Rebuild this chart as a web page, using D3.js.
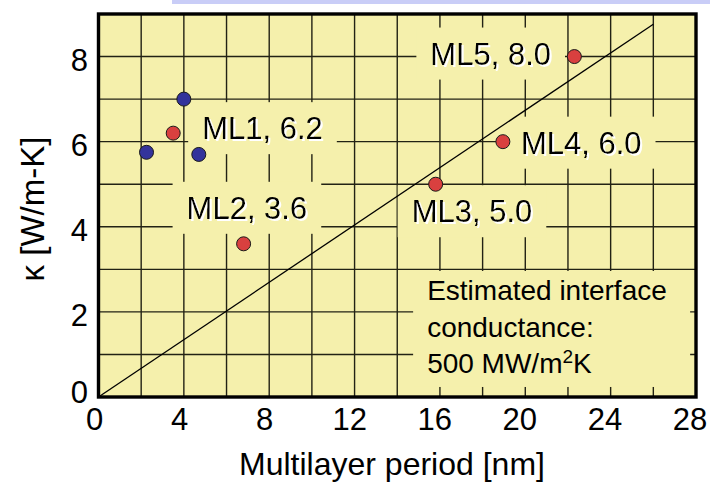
<!DOCTYPE html>
<html><head><meta charset="utf-8">
<script src="https://cdn.jsdelivr.net/npm/d3@7"></script>
<style>html,body{margin:0;padding:0;background:#fff;} svg{display:block;}</style>
</head><body>
<svg id="chart" width="710" height="482"></svg>
<script>
// Thermal conductivity of multilayer samples vs. period
const sampleNames  = ["ML1", "ML2", "ML3", "ML4", "ML5"];
const samplePeriod = [3.5, 6.8, 15.8, 18.95, 22.3];
const sampleKappa  = [6.2, 3.6, 5.0, 6.0, 8.0];

// reference films (blue markers)
const refPeriod = [2.25, 4.0, 4.7];
const refKappa  = [5.75, 7.0, 5.7];

// interface-conductance model line
const modelPeriod = [0, 26];
const modelKappa  = [0, 8.76];

const xTickValues = [0, 4, 8, 12, 16, 20, 24, 28];
const yTickValues = [0, 2, 4, 6, 8];
const noteLines = ["Estimated interface", "conductance:", "500 MW/m^2K"];

const FONT = "'Liberation Sans', Arial, Helvetica, sans-serif";
const svg = d3.select("#chart");

// white drop shadow for the sample labels
const filt = svg.append("defs").append("filter").attr("id", "whiteShadow")
  .attr("x", "-5%").attr("y", "-20%").attr("width", "115%").attr("height", "150%");
filt.append("feOffset").attr("in", "SourceAlpha").attr("dx", 1.6).attr("dy", 1.6).attr("result", "off");
filt.append("feFlood").attr("flood-color", "#fff").attr("result", "white");
filt.append("feComposite").attr("in", "white").attr("in2", "off").attr("operator", "in").attr("result", "shadow");
const merge = filt.append("feMerge");
merge.append("feMergeNode").attr("in", "shadow");
merge.append("feMergeNode").attr("in", "SourceGraphic");

const x = d3.scaleLinear().domain([0, 28]).range([98.5, 696]);
const y = d3.scaleLinear().domain([0, 9]).range([397, 14]);
// tick labels sit slightly left of their grid lines
const xLab = d3.scaleLinear().domain([0, 28]).range([x(0) - 4, x(28) - 6]);

// slide strip at the very top
svg.append("rect").attr("x", 172).attr("y", 0).attr("width", 538).attr("height", 4).attr("fill", "#c9cdf7");

// plot background
svg.append("rect")
  .attr("x", x(0)).attr("y", y(9))
  .attr("width", x(28) - x(0)).attr("height", y(0) - y(9))
  .attr("fill", "#f5f0ac");

// grid
const grid = svg.append("g").attr("stroke", "#222214").attr("stroke-width", 1.4);
grid.selectAll("line.vx").data(d3.range(2, 28, 2)).join("line")
  .attr("x1", d => x(d)).attr("x2", d => x(d)).attr("y1", y(9)).attr("y2", y(0));
grid.selectAll("line.hy").data(d3.range(1, 9, 1)).join("line")
  .attr("x1", x(0)).attr("x2", x(28)).attr("y1", d => y(d)).attr("y2", d => y(d));

// label boxes (filled once text is measured)
const boxLayer = svg.append("g");

// model line
svg.append("line")
  .attr("x1", x(modelPeriod[0])).attr("y1", y(modelKappa[0]))
  .attr("x2", x(modelPeriod[1])).attr("y2", y(modelKappa[1]))
  .attr("stroke", "#000").attr("stroke-width", 1.3);

// frame
svg.append("rect")
  .attr("x", x(0)).attr("y", y(9))
  .attr("width", x(28) - x(0)).attr("height", y(0) - y(9))
  .attr("fill", "none").attr("stroke", "#000").attr("stroke-width", 3.4);

// tick labels
svg.append("g").selectAll("text").data(xTickValues).join("text")
  .attr("x", d => xLab(d)).attr("y", 430)
  .attr("text-anchor", "middle").attr("font-family", FONT).attr("font-size", 31)
  .attr("fill", "#000").text(d => d);
svg.append("g").selectAll("text").data(yTickValues).join("text")
  .attr("x", 88).attr("y", d => y(d) + (d === 0 ? 6 : 14))
  .attr("text-anchor", "end").attr("font-family", FONT).attr("font-size", 31)
  .attr("fill", "#000").text(d => d);

// axis titles
svg.append("text")
  .attr("x", 392).attr("y", 475).attr("text-anchor", "middle")
  .attr("font-family", FONT).attr("font-size", 32).text("Multilayer period [nm]");
svg.append("text")
  .attr("transform", "translate(44,209) rotate(-90)").attr("text-anchor", "middle")
  .attr("font-family", FONT).attr("font-size", 33).text("κ [W/m-K]");

// sample labels: pixel offset of text start / baseline from the marker
const labelOffset = [[29, 6], [-57, -25], [-24, 38], [18, 12], [-144, 8]];
const labelLayer = svg.append("g").attr("font-family", FONT).attr("font-size", 31);
sampleNames.forEach((name, i) => {
  const tx = x(samplePeriod[i]) + labelOffset[i][0];
  const ty = y(sampleKappa[i]) + labelOffset[i][1];
  const str = `${name}, ${sampleKappa[i].toFixed(1)}`;
  const t = labelLayer.append("text").attr("x", tx).attr("y", ty)
    .attr("fill", "#000").attr("filter", "url(#whiteShadow)").text(str);
  const w = t.node().getComputedTextLength();
  boxLayer.append("rect")
    .attr("x", tx - 14).attr("y", ty - 37).attr("width", w + 28).attr("height", 52)
    .attr("fill", "#f5f0ac");
});

// conductance note
const noteX = x(15.4), noteY = y(2.28);
boxLayer.append("rect")
  .attr("x", noteX - 14).attr("y", noteY - 29).attr("width", 277).attr("height", 116)
  .attr("fill", "#f5f0ac");
const note = svg.append("g").attr("font-family", FONT).attr("font-size", 28).attr("fill", "#000");
noteLines.forEach((line, i) => {
  const t = note.append("text").attr("x", noteX).attr("y", noteY + i * 36.6);
  const parts = line.split("^");
  if (parts.length === 1) { t.text(line); return; }
  t.append("tspan").text(parts[0]);
  t.append("tspan").attr("font-size", 19).attr("dy", -10).text(parts[1][0]);
  t.append("tspan").attr("dy", 10).text(parts[1].slice(1));
});

// markers
svg.append("g").selectAll("circle").data(refPeriod).join("circle")
  .attr("cx", d => x(d)).attr("cy", (d, i) => y(refKappa[i])).attr("r", 7)
  .attr("fill", "#33339b").attr("stroke", "#1a1a1a").attr("stroke-width", 1);
svg.append("g").selectAll("circle").data(samplePeriod).join("circle")
  .attr("cx", d => x(d)).attr("cy", (d, i) => y(sampleKappa[i])).attr("r", 7)
  .attr("fill", "#d9403f").attr("stroke", "#1a1a1a").attr("stroke-width", 1);
</script>
</body></html>
